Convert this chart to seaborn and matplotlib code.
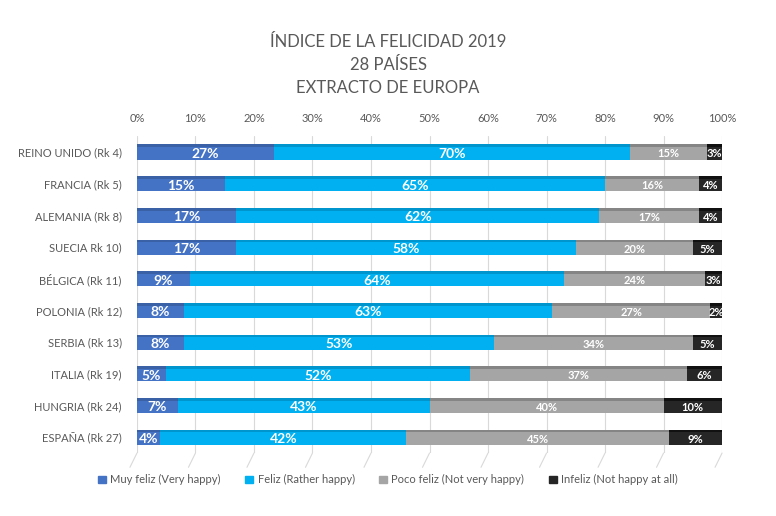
import matplotlib
matplotlib.use("Agg")
import matplotlib.pyplot as plt
import numpy as np
import pandas as pd
import seaborn as sns
from matplotlib.patches import Rectangle, Patch

# ---------------------------------------------------------------------------
# Data
# ---------------------------------------------------------------------------
countries = [
    "REINO UNIDO (Rk 4)", "FRANCIA (Rk 5)", "ALEMANIA (Rk 8)", "SUECIA Rk 10)",
    "BÉLGICA (Rk 11)", "POLONIA (Rk 12)", "SERBIA (Rk 13)", "ITALIA (Rk 19)",
    "HUNGRIA (Rk 24)", "ESPAÑA (Rk 27)",
]
muy_feliz = [27, 15, 17, 17, 9, 8, 8, 5, 7, 4]
feliz = [70, 65, 62, 58, 64, 63, 53, 52, 43, 42]
poco_feliz = [15, 16, 17, 20, 24, 27, 34, 37, 40, 45]
infeliz = [3, 4, 4, 5, 3, 2, 5, 6, 10, 9]

series_names = [
    "Muy feliz (Very happy)", "Feliz (Rather happy)",
    "Poco feliz (Not very happy)", "Infeliz (Not happy at all)",
]
COLORS = ["#4472c4", "#00b0f0", "#a5a5a5", "#262626"]
TOPS = ["#3a60a6", "#0095cc", "#858585", "#111111"]
LABEL_SIZES = [10, 10, 8, 8]

df = pd.DataFrame(
    {"country": countries, series_names[0]: muy_feliz, series_names[1]: feliz,
     series_names[2]: poco_feliz, series_names[3]: infeliz}
)
vals = df[series_names].to_numpy(dtype=float)
share = vals / vals.sum(axis=1, keepdims=True)
cum = np.cumsum(share, axis=1)

sns.set_theme(style="white")
plt.rcParams["font.family"] = ["Lato", "DejaVu Sans"]
GREY = "#595959"

fig = plt.figure(figsize=(7.76, 5.16), dpi=100)
ax = fig.add_axes([0.1765, 0.122, 0.754, 0.614])

# Draw cumulative totals from right to left so each segment sits on top
for i in range(3, -1, -1):
    sns.barplot(x=cum[:, i], y=df["country"], color=COLORS[i], width=0.48,
                saturation=1, orient="h", ax=ax, zorder=3, linewidth=0,
                edgecolor="none")

# darker top strip for a bit of the 3D look
rgba = [matplotlib.colors.to_rgba(c) for c in COLORS]
for patch in list(ax.patches):
    idx = rgba.index(tuple(patch.get_facecolor()))
    ax.add_patch(Rectangle((patch.get_x(), patch.get_y()), patch.get_width(),
                           patch.get_height() * 0.18, color=TOPS[idx], zorder=4,
                           lw=0))

for i in range(4):
    left = cum[:, i] - share[:, i]
    for r in range(len(countries)):
        ax.text(left[r] + share[r, i] / 2, r + 0.06, f"{int(vals[r, i])}%",
                ha="center", va="center", color="white", fontweight="bold",
                fontsize=LABEL_SIZES[i], zorder=5)

ax.set_xlim(0, 1)
ax.set_ylim(len(countries) - 0.5, -0.5)
ax.set_xticks(np.linspace(0, 1, 11))
ax.set_xticklabels([f"{int(t)}%" for t in np.arange(0, 101, 10)])
ax.xaxis.tick_top()
ax.tick_params(axis="x", length=0, pad=9, labelsize=8, labelcolor=GREY)
ax.tick_params(axis="y", length=0, pad=11, labelsize=8, labelcolor=GREY)
ax.set_xlabel("")
ax.set_ylabel("")
for s in ax.spines.values():
    s.set_visible(False)
ax.grid(axis="x", color="#d9d9d9", lw=0.8, zorder=0)
ax.set_axisbelow(True)

# slanted floor lines under the gridlines
for t in np.linspace(0, 1, 11):
    ax.plot([t, t - 0.012], [len(countries) - 0.5, len(countries) - 0.05],
            color="#d9d9d9", lw=0.8, clip_on=False, zorder=0)

fig.text(0.5, 0.935, "ÍNDICE DE LA FELICIDAD 2019\n28 PAÍSES\nEXTRACTO DE EUROPA",
         ha="center", va="top", fontsize=12, color=GREY, linespacing=1.55)

handles = [Patch(color=c) for c in COLORS]
fig.legend(handles, series_names, loc="center", bbox_to_anchor=(0.5, 0.07),
           ncol=4, frameon=False, fontsize=8, labelcolor=GREY,
           handlelength=0.7, handleheight=0.7, handletextpad=0.4,
           columnspacing=2.2)

fig.savefig("out.png", dpi=100)
